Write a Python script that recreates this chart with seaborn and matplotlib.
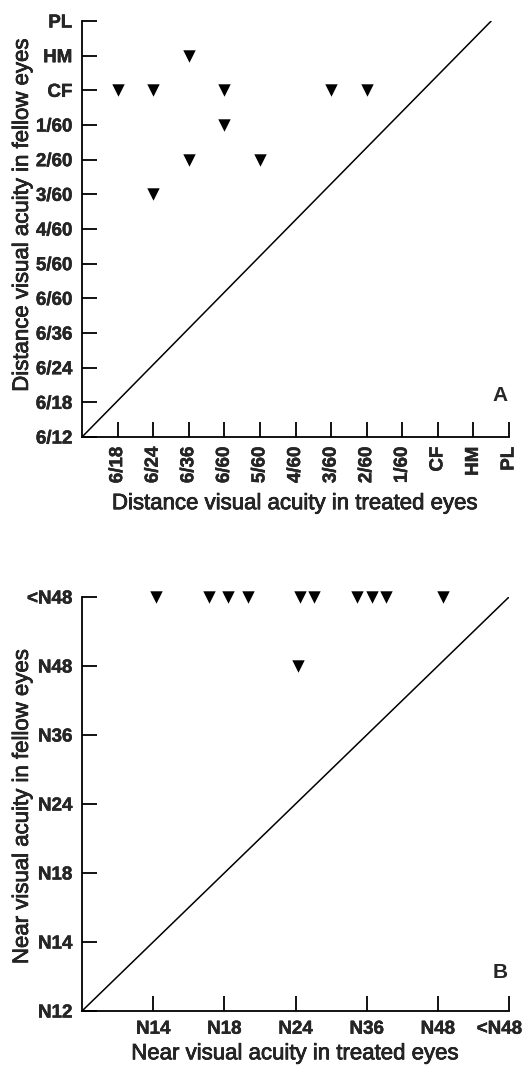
import matplotlib
matplotlib.use("Agg")
import matplotlib.pyplot as plt
import matplotlib.patheffects as pe
import matplotlib.transforms as mtransforms
import seaborn as sns
import pandas as pd

# ---- data ----
dist_levels = ["6/12", "6/18", "6/24", "6/36", "6/60", "5/60", "4/60",
               "3/60", "2/60", "1/60", "CF", "HM", "PL"]
dist_treated = [3, 1, 2, 4, 7, 8, 4, 3, 5, 2]
dist_fellow = [11, 10, 10, 10, 10, 10, 9, 8, 8, 7]
dist_diag_x = [0, 11.5]
dist_diag_y = [0, 12]

near_levels = ["N12", "N14", "N18", "N24", "N36", "N48", "<N48"]
near_treated = [1.04, 1.79, 2.05, 2.33, 3.06, 3.26, 3.87, 4.07, 4.27, 5.07, 3.03]
near_fellow = [6, 6, 6, 6, 6, 6, 6, 6, 6, 6, 5]
near_diag_x = [0, 6]
near_diag_y = [0, 6]

sns.set_theme(style="ticks")
plt.rcParams["font.family"] = ["Liberation Sans", "DejaVu Sans"]

fig = plt.figure(figsize=(5.25, 10.68), dpi=100)
axA = fig.add_axes([82/525, 1-437/1068, (509-82)/525, (437-21)/1068])
axB = fig.add_axes([82/525, 1-1011/1068, (509-82)/525, (1011-597)/1068])

dfA = pd.DataFrame({"treated": dist_treated, "fellow": dist_fellow})
dfB = pd.DataFrame({"treated": near_treated, "fellow": near_fellow})

label_font = dict(size=16)
label_fx = [pe.withStroke(linewidth=0.5, foreground="black")]
tick_fx = [pe.withStroke(linewidth=0.3, foreground="black")]

def style(ax, n, levels, xlabel, ylabel, letter, letter_y, xrot, xlab_y, ylab_y):
    ax.set_xlim(0, n)
    ax.set_ylim(0, n)
    ax.set_yticks(range(n + 1))
    ax.set_yticklabels(levels, fontweight="bold", fontsize=13.5)
    ax.set_xticks(range(1, n + 1))
    ax.set_xticklabels(levels[1:], fontweight="bold", fontsize=13.5, rotation=xrot)
    for t in ax.get_xticklabels() + ax.get_yticklabels():
        t.set_path_effects(tick_fx)
    ax.tick_params(axis="both", direction="in", length=11, width=1.3, color="black")
    ax.tick_params(axis="y", pad=7)
    ax.tick_params(axis="x", pad=7)
    for s in ["top", "right"]:
        ax.spines[s].set_visible(False)
    for s in ["left", "bottom"]:
        ax.spines[s].set_linewidth(1.3)
        ax.spines[s].set_color("black")
    xl = ax.set_xlabel(xlabel, **label_font)
    yl = ax.set_ylabel(ylabel, **label_font)
    xl.set_path_effects(label_fx)
    yl.set_path_effects(label_fx)
    ax.xaxis.set_label_coords(0.5, xlab_y)
    ax.yaxis.set_label_coords(-0.115, ylab_y)
    ax.text(0.997, letter_y, letter, transform=ax.transAxes, ha="right", va="center",
            fontsize=15, fontweight="bold")

sns.scatterplot(data=dfA, x="treated", y="fellow", marker="v", s=80, color="black",
                edgecolor="black", linewidth=0, ax=axA, clip_on=False, zorder=3)
sns.lineplot(x=dist_diag_x, y=dist_diag_y, color="black", linewidth=1.1, ax=axA,
             estimator=None, sort=False)
style(axA, 12, dist_levels, "Distance visual acuity in treated eyes",
      "Distance visual acuity in fellow eyes", "A", 0.1, 90, -0.135, 0.535)

sns.scatterplot(data=dfB, x="treated", y="fellow", marker="v", s=80, color="black",
                edgecolor="black", linewidth=0, ax=axB, clip_on=False, zorder=3)
sns.lineplot(x=near_diag_x, y=near_diag_y, color="black", linewidth=1.1, ax=axB,
             estimator=None, sort=False)
style(axB, 6, near_levels, "Near visual acuity in treated eyes",
      "Near visual acuity in fellow eyes", "B", 0.092, 0, -0.078, 0.495)

# last x tick label of panel B sits right-aligned, ending near the figure edge
last = axB.get_xticklabels()[-1]
last.set_horizontalalignment("right")
last.set_transform(last.get_transform() +
                   mtransforms.ScaledTranslation(13/100, 0, fig.dpi_scale_trans))

fig.savefig("out.png", dpi=100)
